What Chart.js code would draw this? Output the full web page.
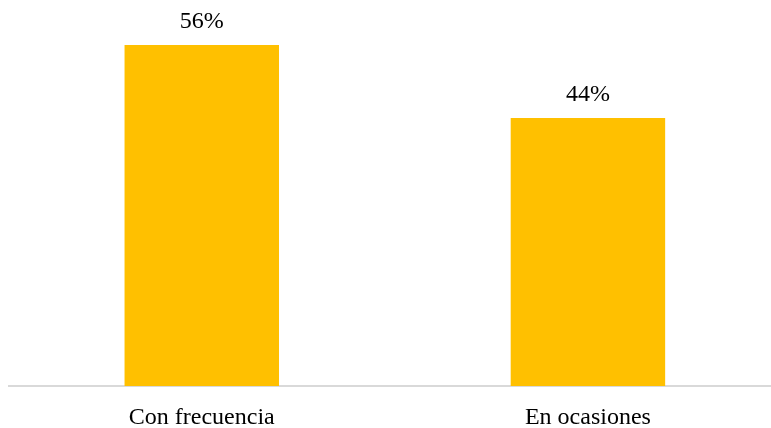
<!DOCTYPE html>
<html>
<head>
<meta charset="utf-8">
<script src="https://cdn.jsdelivr.net/npm/chart.js@4"></script>
<style>
  html, body { margin: 0; padding: 0; background: #fff; overflow: hidden; }
  #wrap { width: 771px; height: 428px; overflow: hidden; }
  #box { width: 781px; height: 428px; }
</style>
</head>
<body>
<div id="wrap"><div id="box"><canvas id="chart"></canvas></div></div>
<script>
const categories = ['Con frecuencia', 'En ocasiones'];
const shares = [56, 44];
const valueLabels = ['56%', '44%'];

const serif = "'Liberation Serif', 'Times New Roman', serif";

// value text above each bar
const barLabels = {
  id: 'barLabels',
  afterDatasetsDraw(chart) {
    const ctx = chart.ctx;
    const meta = chart.getDatasetMeta(0);
    ctx.save();
    ctx.font = '24px ' + serif;
    ctx.fillStyle = '#000';
    ctx.textAlign = 'center';
    ctx.textBaseline = 'alphabetic';
    meta.data.forEach((bar, i) => {
      ctx.fillText(valueLabels[i], bar.x, bar.y - 17);
    });
    ctx.restore();
  }
};

new Chart(document.getElementById('chart'), {
  type: 'bar',
  data: {
    labels: categories,
    datasets: [{
      data: shares,
      backgroundColor: '#FFC000',
      barPercentage: 0.4,
      categoryPercentage: 1
    }]
  },
  options: {
    responsive: true,
    maintainAspectRatio: false,
    animation: false,
    layout: { padding: { left: 8.7, right: 0, top: 20.6, bottom: 0 } },
    plugins: { legend: { display: false }, tooltip: { enabled: false } },
    scales: {
      x: {
        grid: { display: false },
        border: { display: true, color: '#d9d9d9', width: 2 },
        ticks: {
          color: '#000',
          font: { family: serif, size: 24 },
          padding: 9
        },
        afterFit(scale) { scale.height = 42; }
      },
      y: {
        display: false,
        min: 0,
        max: 60
      }
    }
  },
  plugins: [barLabels]
});
</script>
</body>
</html>
